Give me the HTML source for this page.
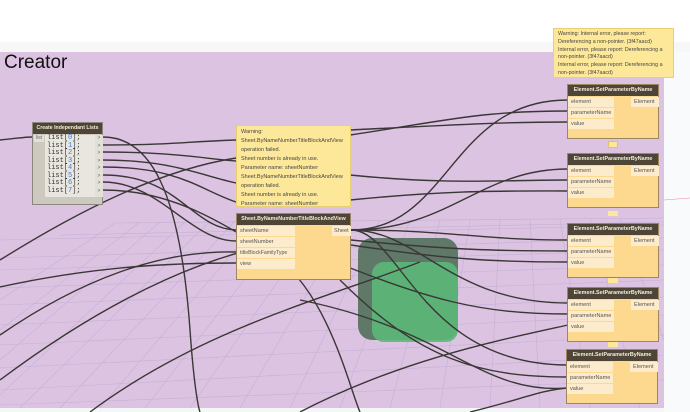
<!DOCTYPE html>
<html><head><meta charset="utf-8"><style>
*{margin:0;padding:0;box-sizing:border-box}
body{width:690px;height:412px;overflow:hidden;background:#fff;position:relative;font-family:"Liberation Sans",sans-serif}
.abs{position:absolute}
.node{position:absolute;background:#fcd98f;border:1px solid #9a8660}
.hdr{background:#4f4536;color:#f2ecdd;font-size:5.4px;font-weight:bold;height:11px;line-height:11px;text-align:center;white-space:nowrap;overflow:hidden}
.port{position:absolute;background:#fdeccb;font-size:5.6px;color:#555;height:10px;line-height:10px;padding-left:3px;white-space:nowrap}
.warn{position:absolute;background:#fde89a;border:1px solid #e8cf72;font-size:5.8px;line-height:9px;color:#444;padding:2px 4px;overflow:hidden;white-space:nowrap}
</style></head><body>
<div class="abs" style="left:0;top:42px;width:690px;height:10px;background:#f7f7f7"></div>
<div class="abs" style="left:664px;top:52px;width:26px;height:360px;background:#f8fafb"></div>
<div class="abs" style="left:0;top:52px;width:664px;height:356px;background:#dcc3e2"></div>
<div class="abs" style="left:0;top:408px;width:664px;height:4px;background:#f4f6f7"></div>
<svg class="abs" style="left:0;top:0" width="690" height="412">
<g stroke="#c4b1d6" stroke-width="0.6" fill="none">
<path d="M0 240 L664 225"/><path d="M0 270 L664 250"/><path d="M0 305 L664 280"/><path d="M0 345 L664 315"/><path d="M0 390 L664 355"/>
<path d="M115 223 L664 218"/><path d="M60 235 L664 222"/>
<path d="M0 258 L664 238"/><path d="M0 288 L664 265"/><path d="M0 325 L664 297"/><path d="M0 368 L664 335"/><path d="M0 405 L664 380"/>
<path d="M115 223 L0 300"/><path d="M160 222 L0 360"/><path d="M210 221 L20 408"/><path d="M260 221 L100 408"/><path d="M320 220 L190 408"/><path d="M380 220 L290 408"/><path d="M440 220 L390 408"/><path d="M500 219 L490 408"/><path d="M560 219 L590 408"/><path d="M620 219 L664 340"/>
<path d="M140 222 L0 330"/><path d="M185 222 L0 395"/><path d="M235 221 L60 408"/><path d="M290 221 L145 408"/><path d="M350 220 L240 408"/><path d="M410 220 L340 408"/><path d="M470 220 L440 408"/><path d="M530 219 L540 408"/><path d="M590 219 L640 408"/>
</g>
<path d="M664 200 L690 198" stroke="#e89" stroke-width="0.5"/>
<rect x="358" y="238" width="100" height="102" rx="14" fill="#5f7868"/>
<rect x="372" y="262" width="86" height="80" rx="12" fill="#5cb878" opacity="0.9"/>
<g stroke="#3a3736" stroke-width="1.4" fill="none">
<path d="M0 140 C20 138 25 137 32 137"/>
<path d="M103 137 C150 137 180 190 190 330 C195 400 200 412 200 412"/>
<path d="M103 145 C170 145 180 142 236 140"/>
<path d="M103 152 C170 152 200 158 236 161"/>
<path d="M103 160 C170 160 200 175 236 183"/>
<path d="M103 167 C180 167 200 190 236 202"/>
<path d="M103 175 C180 175 190 228 236 230"/>
<path d="M103 182 C160 182 190 241 236 241"/>
<path d="M103 190 C170 190 220 220 280 260 C330 300 350 390 360 412"/>
<path d="M0 260 C80 210 160 170 236 158"/>
<path d="M0 335 C80 280 160 250 236 252"/>
<path d="M0 287 C100 265 180 263 236 263"/>
<path d="M0 380 C120 290 220 250 300 240"/>
<path d="M90 412 C200 330 320 300 420 262"/>
<path d="M300 412 C400 360 500 340 568 325"/>
<path d="M470 412 C520 400 540 390 568 388"/>
<path d="M351 230 C450 230 450 100 568 100"/>
<path d="M351 230 C450 230 480 169 568 169"/>
<path d="M351 230 C450 230 480 240 568 240"/>
<path d="M351 230 C420 230 450 303 568 303"/>
<path d="M351 230 C400 230 420 365 568 365"/>
<path d="M350 135 C450 120 480 111 568 111"/>
<path d="M350 130 C450 125 500 122 568 122"/>
<path d="M350 175 C450 185 500 180 568 180"/>
<path d="M350 200 C450 190 500 191 568 191"/>
<path d="M351 240 C450 250 500 251 568 251"/>
<path d="M351 245 C450 260 500 262 568 262"/>
<path d="M330 260 C430 300 480 314 568 314"/>
<path d="M340 280 C420 360 480 377 568 377"/>
<path d="M300 300 C450 330 480 395 568 388"/>
</g>
</svg>
<div class="abs" style="left:4px;top:52px;font-size:19px;color:#111">Creator</div>

<div class="node" style="left:32px;top:122px;width:71px;height:83px;background:#cdc9bf;border-color:#8a8780">
<div class="hdr" style="font-size:5.2px">Create Independant Lists</div>
<div class="abs" style="left:1px;top:12px;font-size:5px;color:#666;background:#e3e0d8;padding:0 2px;line-height:7px">list</div>
<div class="abs" style="left:12px;top:12px;width:50px;height:62px;background:#e8e6df;font-family:'Liberation Mono',monospace;font-size:7px;line-height:7.5px;color:#333;padding-left:2px;white-space:nowrap">list[<span style="color:#3a7de0">0</span>];<br>list[<span style="color:#3a7de0">1</span>];<br>list[<span style="color:#3a7de0">2</span>];<br>list[<span style="color:#3a7de0">3</span>];<br>list[<span style="color:#3a7de0">4</span>];<br>list[<span style="color:#3a7de0">5</span>];<br>list[<span style="color:#3a7de0">6</span>];<br>list[<span style="color:#3a7de0">7</span>];</div>
<div class="abs" style="left:62px;top:12px;width:8px;height:62px;background:#e3e0d8;font-size:5px;line-height:7.5px;color:#666;text-align:center">&gt;<br>&gt;<br>&gt;<br>&gt;<br>&gt;<br>&gt;<br>&gt;<br>&gt;</div>
</div>

<div class="warn" style="left:236px;top:125px;width:115px;height:82px;font-size:5.5px">Warning:<br>Sheet.ByNameNumberTitleBlockAndView<br>operation failed.<br>Sheet number is already in use.<br>Parameter name: sheetNumber<br>Sheet.ByNameNumberTitleBlockAndView<br>operation failed.<br>Sheet number is already in use.<br>Parameter name: sheetNumber<br>Sheet.ByNameNumberTitleBlockAndView</div>
<div class="node" style="left:236px;top:213px;width:115px;height:67px">
<div class="hdr" style="font-size:5.3px">Sheet.ByNameNumberTitleBlockAndView</div>
<div class="port" style="left:0;top:12px;width:58px">sheetName</div>
<div class="port" style="left:0;top:23px;width:58px">sheetNumber</div>
<div class="port" style="left:0;top:34px;width:58px;font-size:5.2px">titleBlockFamilyType</div>
<div class="port" style="left:0;top:45px;width:58px">view</div>
<div class="port" style="left:95px;top:12px;width:19px;padding-left:2px">Sheet</div>
</div>

<div class="warn" style="left:553px;top:28px;width:121px;height:50px;line-height:7.8px;font-size:5.3px;white-space:normal">Warning: Internal error, please report: Dereferencing a non-pointer. (3f47aacd)<br>Internal error, please report: Dereferencing a non-pointer. (3f47aacd)<br>Internal error, please report: Dereferencing a non-pointer. (3f47aacd)</div>

<div class="node" style="left:567px;top:84px;width:92px;height:55px"><div class="hdr">Element.SetParameterByName</div><div class="port" style="left:0;top:12px;width:46px">element</div><div class="port" style="left:0;top:23px;width:46px">parameterName</div><div class="port" style="left:0;top:34px;width:46px">value</div><div class="port" style="left:63px;top:12px;width:28px">Element</div></div>
<div class="node" style="left:567px;top:153px;width:92px;height:55px"><div class="hdr">Element.SetParameterByName</div><div class="port" style="left:0;top:12px;width:46px">element</div><div class="port" style="left:0;top:23px;width:46px">parameterName</div><div class="port" style="left:0;top:34px;width:46px">value</div><div class="port" style="left:63px;top:12px;width:28px">Element</div></div>
<div class="node" style="left:567px;top:223px;width:92px;height:55px"><div class="hdr">Element.SetParameterByName</div><div class="port" style="left:0;top:12px;width:46px">element</div><div class="port" style="left:0;top:23px;width:46px">parameterName</div><div class="port" style="left:0;top:34px;width:46px">value</div><div class="port" style="left:63px;top:12px;width:28px">Element</div></div>
<div class="node" style="left:567px;top:287px;width:92px;height:55px"><div class="hdr">Element.SetParameterByName</div><div class="port" style="left:0;top:12px;width:46px">element</div><div class="port" style="left:0;top:23px;width:46px">parameterName</div><div class="port" style="left:0;top:34px;width:46px">value</div><div class="port" style="left:63px;top:12px;width:28px">Element</div></div>
<div class="node" style="left:566px;top:349px;width:92px;height:55px"><div class="hdr">Element.SetParameterByName</div><div class="port" style="left:0;top:12px;width:46px">element</div><div class="port" style="left:0;top:23px;width:46px">parameterName</div><div class="port" style="left:0;top:34px;width:46px">value</div><div class="port" style="left:63px;top:12px;width:28px">Element</div></div>
<div class="abs" style="left:608px;top:141px;width:10px;height:7px;background:#fde89a;border:1px solid #e0c060"></div>
<div class="abs" style="left:608px;top:211px;width:10px;height:5px;background:#fde89a"></div>
<div class="abs" style="left:608px;top:278px;width:10px;height:5px;background:#fde89a"></div>
<div class="abs" style="left:608px;top:342px;width:10px;height:5px;background:#fde89a"></div>
</body></html>
